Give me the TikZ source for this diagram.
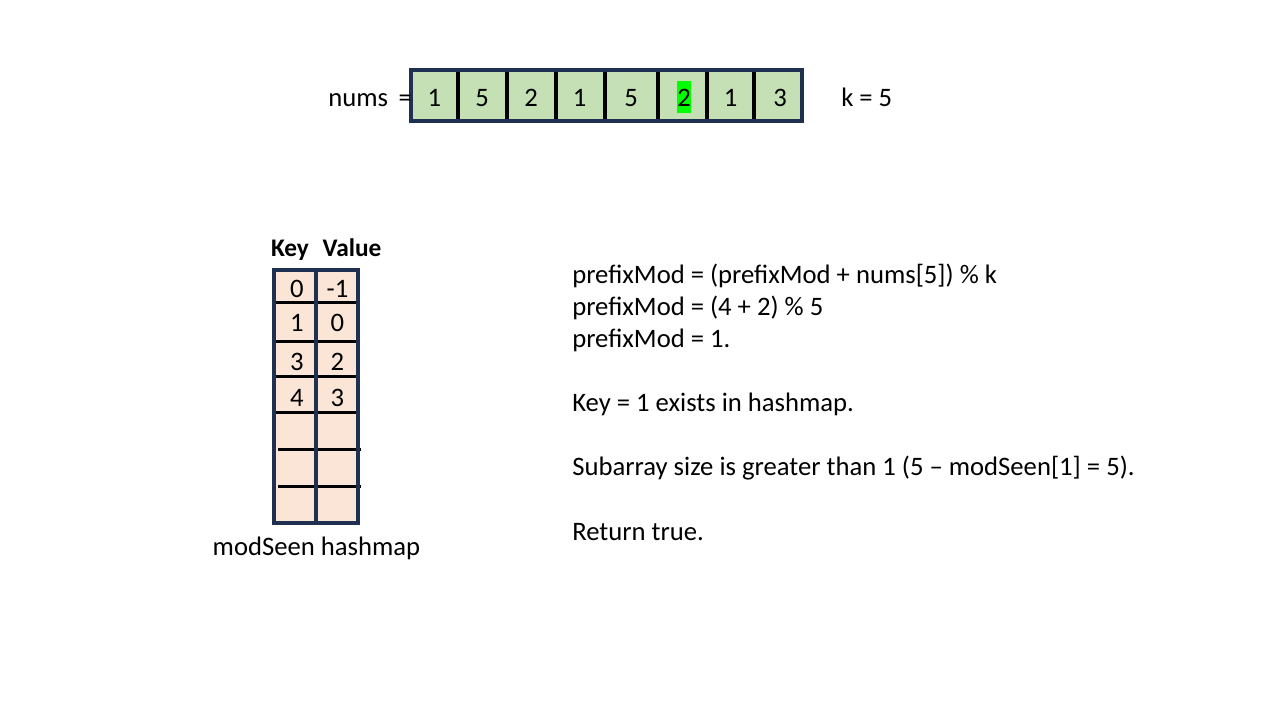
\documentclass[tikz,border=0pt]{standalone}
\usepackage{fontspec}
\setmainfont{Carlito}
\definecolor{cellgreen}{HTML}{C5E0B4}
\definecolor{cellpeach}{HTML}{FBE5D6}
\definecolor{boxnavy}{HTML}{1F3050}
\definecolor{hlgreen}{HTML}{00FF00}
\begin{document}
\begin{tikzpicture}[x=0.75pt, y=-0.75pt,
    every node/.style={inner sep=0pt, font=\fontsize{20}{24}\selectfont},
    numtxt/.style={anchor=base},
    linetxt/.style={anchor=base west},
    headtxt/.style={anchor=base, font=\fontsize{19}{22}\selectfont\bfseries},
    divider/.style={black, line width=3pt},
    rowline/.style={black, line width=2.25pt},
    outline/.style={boxnavy, line width=3pt}]
    \useasboundingbox (0,0) rectangle (1280,720);

    % array
    \fill[cellgreen] (411,70) rectangle (802,121);
    \fill[hlgreen] (677,81) rectangle (691,113);
    \foreach \x in {458,507,556,605,658,707,754}
        \draw[divider] (\x,70) -- (\x,121);
    \draw[outline] (411,70) rectangle (802,121);
    \foreach \cx/\v/\i in {434.5/1/1, 482/5/2, 531/2/3, 579.5/1/4, 631/5/5, 684/2/6, 730.5/1/7, 780/3/8}
        \node[numtxt] (c\i) at (\cx,107) {\v};
    \node[anchor=base west] (nums) at (328,107) {nums\hspace{8pt}=};
    \node[anchor=base west] (k) at (841,107) {k = 5};

    % hashmap
    \fill[cellpeach] (273.7,270.3) rectangle (358,523);
    \foreach \y in {302.5,341,376.7,412.7}
        \draw[rowline] (274.3,\y) -- (357.7,\y);
    \foreach \y in {449,486}
        \draw[rowline] (277.7,\y) -- (361,\y);
    \draw[outline] (315.7,270.3) -- (315.7,523);
    \draw[outline] (273.7,270.3) rectangle (358,523);
    \node[headtxt] (keyhead) at (290,256.7) {Key};
    \node[headtxt] (valhead) at (352,256.7) {Value};
    \foreach \y/\kk/\vv/\i in {297.7/0/-1/1, 331/1/0/2, 370/3/2/3, 406/4/3/4} {
        \node[numtxt] (key\i) at (297,\y) {\kk};
        \node[numtxt] (val\i) at (337.5,\y) {\vv};
    }
    \node[numtxt] (mapname) at (316.5,555) {modSeen hashmap};

    % steps
    \node[linetxt] (step1) at (572,283.3) {prefixMod = (prefixMod + nums[5]) \% k};
    \node[linetxt] (step2) at (572,315.7) {prefixMod = (4 + 2) \% 5};
    \node[linetxt] (step3) at (572,347.7) {prefixMod = 1.};
    \node[linetxt] (step4) at (572,411.7) {Key = 1 exists in hashmap.};
    \node[linetxt] (step5) at (572,475.7) {Subarray size is greater than 1 (5 – modSeen[1] = 5).};
    \node[linetxt] (step6) at (572,540) {Return true.};
\end{tikzpicture}
\end{document}
